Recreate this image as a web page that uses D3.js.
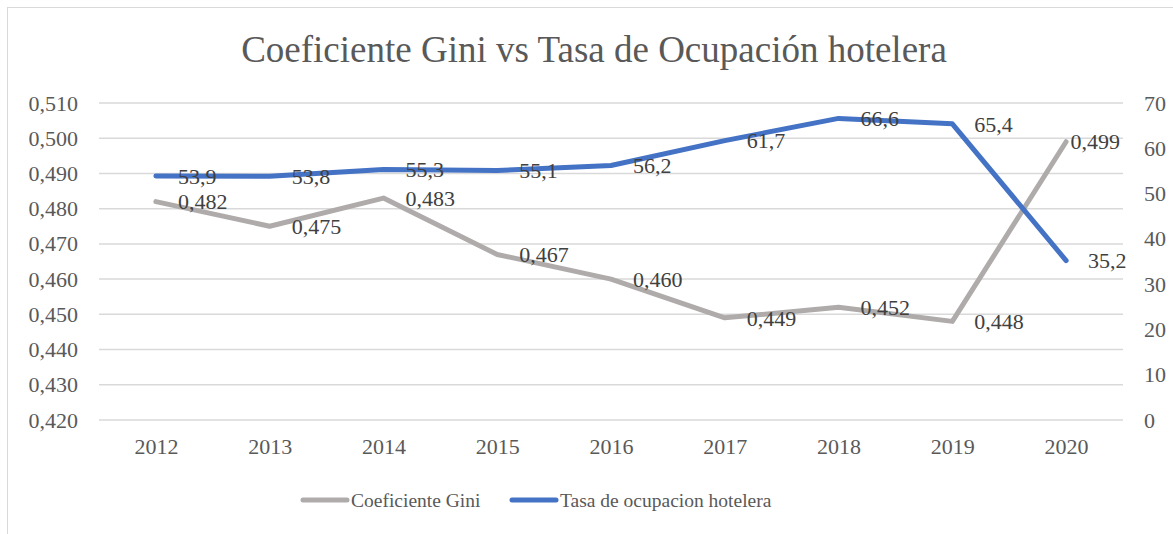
<!DOCTYPE html>
<html>
<head>
<meta charset="utf-8">
<script src="https://cdn.jsdelivr.net/npm/d3@7"></script>
<style>
  body { margin: 0; background: #fff; }
  svg { display: block; }
</style>
</head>
<body>
<div id="chart"></div>
<script>
// data
const years = ["2012", "2013", "2014", "2015", "2016", "2017", "2018", "2019", "2020"];
const gini = [0.482, 0.475, 0.483, 0.467, 0.460, 0.449, 0.452, 0.448, 0.499];
const tasa = [53.9, 53.8, 55.3, 55.1, 56.2, 61.7, 66.6, 65.4, 35.2];
const leftTicks = [0.42, 0.43, 0.44, 0.45, 0.46, 0.47, 0.48, 0.49, 0.50, 0.51];
const rightTicks = [0, 10, 20, 30, 40, 50, 60, 70];
const titleText = "Coeficiente Gini vs Tasa de Ocupación hotelera";
const seriesNames = ["Coeficiente Gini", "Tasa de ocupacion hotelera"];

const width = 1173, height = 534;
const font = "'Liberation Serif', 'Times New Roman', serif";
const grayCol = "#AFABAB", blueCol = "#4472C4";

const svg = d3.select("#chart").append("svg")
    .attr("width", width)
    .attr("height", height);

// outer frame
svg.append("rect")
    .attr("x", 7.5).attr("y", 7.5)
    .attr("width", 1200).attr("height", 600)
    .attr("fill", "#fff")
    .attr("stroke", "#d9d9d9");

const x = d3.scalePoint().domain(years).range([99, 1123]).padding(0.5);
const yL = d3.scaleLinear().domain([0.42, 0.51]).range([420, 103]);
const yR = d3.scaleLinear().domain([0, 70]).range([420, 103]);

const fmt = d3.format(".3f");
const comma = s => s.replace(".", ",");

// gridlines
svg.append("g").selectAll("line").data(leftTicks).join("line")
    .attr("x1", 99).attr("x2", 1123)
    .attr("y1", d => yL(d)).attr("y2", d => yL(d))
    .attr("stroke", "#d9d9d9").attr("stroke-width", 1.5);

// left axis
const axL = svg.append("g").attr("transform", "translate(99,0)")
    .call(d3.axisLeft(yL).tickValues(leftTicks).tickSize(0).tickPadding(21)
        .tickFormat(d => comma(fmt(d))));
axL.select(".domain").remove();
axL.selectAll("text").attr("font-family", font).attr("font-size", 22).attr("fill", "#595959");

// right axis
const axR = svg.append("g").attr("transform", "translate(1123,0)")
    .call(d3.axisRight(yR).tickValues(rightTicks).tickSize(0).tickPadding(21));
axR.select(".domain").remove();
axR.selectAll("text").attr("font-family", font).attr("font-size", 22).attr("fill", "#595959");

// x axis
const axX = svg.append("g").attr("transform", "translate(0,420)")
    .call(d3.axisBottom(x).tickSize(0).tickPadding(18));
axX.select(".domain").remove();
axX.selectAll("text").attr("font-family", font).attr("font-size", 22).attr("fill", "#595959");

// lines
const lineL = d3.line().x((d, i) => x(years[i])).y(d => yL(d));
const lineR = d3.line().x((d, i) => x(years[i])).y(d => yR(d));

svg.append("path").datum(gini)
    .attr("d", lineL).attr("fill", "none")
    .attr("stroke", grayCol).attr("stroke-width", 5)
    .attr("stroke-linejoin", "round").attr("stroke-linecap", "round");

svg.append("path").datum(tasa)
    .attr("d", lineR).attr("fill", "none")
    .attr("stroke", blueCol).attr("stroke-width", 5)
    .attr("stroke-linejoin", "round").attr("stroke-linecap", "round");

// data labels (pushed back inside when they run too far right)
const placeLabel = function(d, i) {
    const w = this.getComputedTextLength();
    let lx = x(years[i]) + 22;
    if (lx + w > 1135) lx = 1120 - w;
    d3.select(this).attr("x", lx);
};

svg.append("g").selectAll("text").data(gini).join("text")
    .attr("y", d => yL(d))
    .attr("dy", "0.35em")
    .attr("font-family", font).attr("font-size", 22).attr("fill", "#404040")
    .text(d => comma(fmt(d)))
    .each(placeLabel);

svg.append("g").selectAll("text").data(tasa).join("text")
    .attr("y", d => yR(d))
    .attr("dy", "0.35em")
    .attr("font-family", font).attr("font-size", 22).attr("fill", "#404040")
    .text(d => comma(d.toFixed(1)))
    .each(placeLabel);

// title
svg.append("text")
    .attr("x", 594).attr("y", 62)
    .attr("text-anchor", "middle")
    .attr("font-family", font).attr("font-size", 37).attr("fill", "#595959")
    .text(titleText);

// legend
const legend = [
  {name: seriesNames[0], col: grayCol, x: 303},
  {name: seriesNames[1], col: blueCol, x: 512}
];
const lg = svg.append("g").selectAll("g").data(legend).join("g")
    .attr("transform", d => `translate(${d.x},500)`);
lg.append("line").attr("x1", 0).attr("x2", 44)
    .attr("stroke", d => d.col).attr("stroke-width", 5).attr("stroke-linecap", "round");
lg.append("text").attr("x", 48).attr("dy", "0.35em")
    .attr("font-family", font).attr("font-size", 19.5).attr("fill", "#595959")
    .text(d => d.name);
</script>
</body>
</html>
